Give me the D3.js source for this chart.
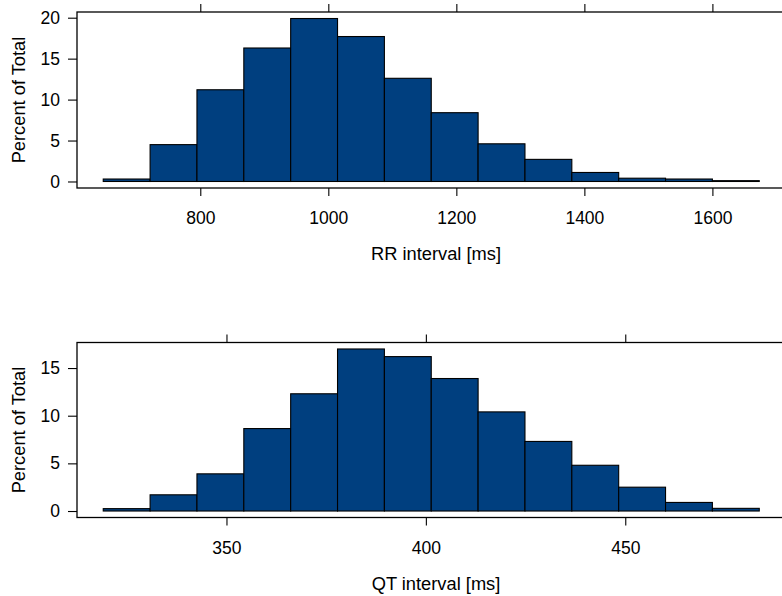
<!DOCTYPE html>
<html>
<head>
<meta charset="utf-8">
<script src="https://cdn.jsdelivr.net/npm/d3@7"></script>
<style>
  body { margin: 0; background: #fff; }
  svg { display: block; font-family: "Liberation Sans", Arial, sans-serif; }
</style>
</head>
<body>
<svg id="chart" width="782" height="596"></svg>
<script>
// bin edges and percentages
var rrBreaks = [648.4, 721.6, 794.8, 868.0, 941.2, 1014.4, 1087.6, 1160.8, 1234.0, 1307.2, 1380.4, 1453.6, 1526.8, 1600.0, 1673.2];
var rrPercent = [0.3, 4.5, 11.2, 16.3, 19.9, 17.7, 12.6, 8.4, 4.6, 2.7, 1.1, 0.4, 0.3, 0.1];
var rrXTicks = [800, 1000, 1200, 1400, 1600];
var rrYTicks = [0, 5, 10, 15, 20];

var qtBreaks = [319.1, 330.85, 342.6, 354.35, 366.1, 377.85, 389.6, 401.35, 413.1, 424.85, 436.6, 448.35, 460.1, 471.85, 483.6];
var qtPercent = [0.25, 1.7, 3.9, 8.65, 12.3, 17.0, 16.2, 13.9, 10.4, 7.3, 4.8, 2.5, 0.9, 0.28];
var qtXTicks = [350, 400, 450];
var qtYTicks = [0, 5, 10, 15];

var fill = "#003f7f";
var tickFont = 17.5, labFont = 18.3;
var svg = d3.select("#chart");

function drawPanel(top, height, breaks, percent, xTicks, yTicks, xlab) {
    var left = 77, width = 708.5;
    var lo = breaks[0], hi = breaks[breaks.length - 1];
    var pad = (hi - lo) * 0.04;
    var x = d3.scaleLinear().domain([lo - pad, hi + pad]).range([left, left + width]);
    var ymax = d3.max(percent);
    var y = d3.scaleLinear().domain([-0.04 * ymax, 1.04 * ymax]).range([top + height, top]);

    var g = svg.append("g");

    // bars
    g.selectAll("rect.bar")
        .data(percent)
        .enter().append("rect")
        .attr("class", "bar")
        .attr("x", function (d, i) { return x(breaks[i]); })
        .attr("width", function (d, i) { return x(breaks[i + 1]) - x(breaks[i]); })
        .attr("y", function (d) { return y(d); })
        .attr("height", function (d) { return y(0) - y(d); })
        .attr("fill", fill)
        .attr("stroke", "black")
        .attr("stroke-width", 1.1);

    // panel box
    g.append("rect")
        .attr("x", left).attr("y", top)
        .attr("width", width).attr("height", height)
        .attr("fill", "none")
        .attr("stroke", "black")
        .attr("stroke-width", 1.3);

    // axes (domain lines removed, box does that)
    var yAxis = g.append("g")
        .attr("transform", "translate(" + left + ",0)")
        .call(d3.axisLeft(y).tickValues(yTicks).tickSize(9).tickPadding(8).tickSizeOuter(0));
    var xAxis = g.append("g")
        .attr("transform", "translate(0," + (top + height) + ")")
        .call(d3.axisBottom(x).tickValues(xTicks).tickFormat(d3.format("d"))
            .tickSize(8).tickPadding(16).tickSizeOuter(0));
    var xTop = g.append("g")
        .attr("transform", "translate(0," + top + ")")
        .call(d3.axisTop(x).tickValues(xTicks).tickSize(8).tickFormat("").tickSizeOuter(0));

    [yAxis, xAxis, xTop].forEach(function (a) {
        a.select(".domain").remove();
        a.selectAll("line").attr("stroke", "black").attr("stroke-width", 1.1);
        a.selectAll("text")
            .attr("fill", "black")
            .style("font-size", tickFont + "px")
            .style("font-family", "'Liberation Sans', Arial, sans-serif");
    });

    // axis labels
    g.append("text")
        .attr("transform", "translate(" + 25 + "," + (top + height / 2) + ") rotate(-90)")
        .attr("text-anchor", "middle")
        .style("font-size", labFont + "px")
        .text("Percent of Total");

    g.append("text")
        .attr("x", 436)
        .attr("y", top + height + 72)
        .attr("text-anchor", "middle")
        .style("font-size", labFont + "px")
        .text(xlab);
}

drawPanel(12, 176, rrBreaks, rrPercent, rrXTicks, rrYTicks, "RR interval [ms]");
drawPanel(342.5, 175, qtBreaks, qtPercent, qtXTicks, qtYTicks, "QT interval [ms]");
</script>
</body>
</html>
